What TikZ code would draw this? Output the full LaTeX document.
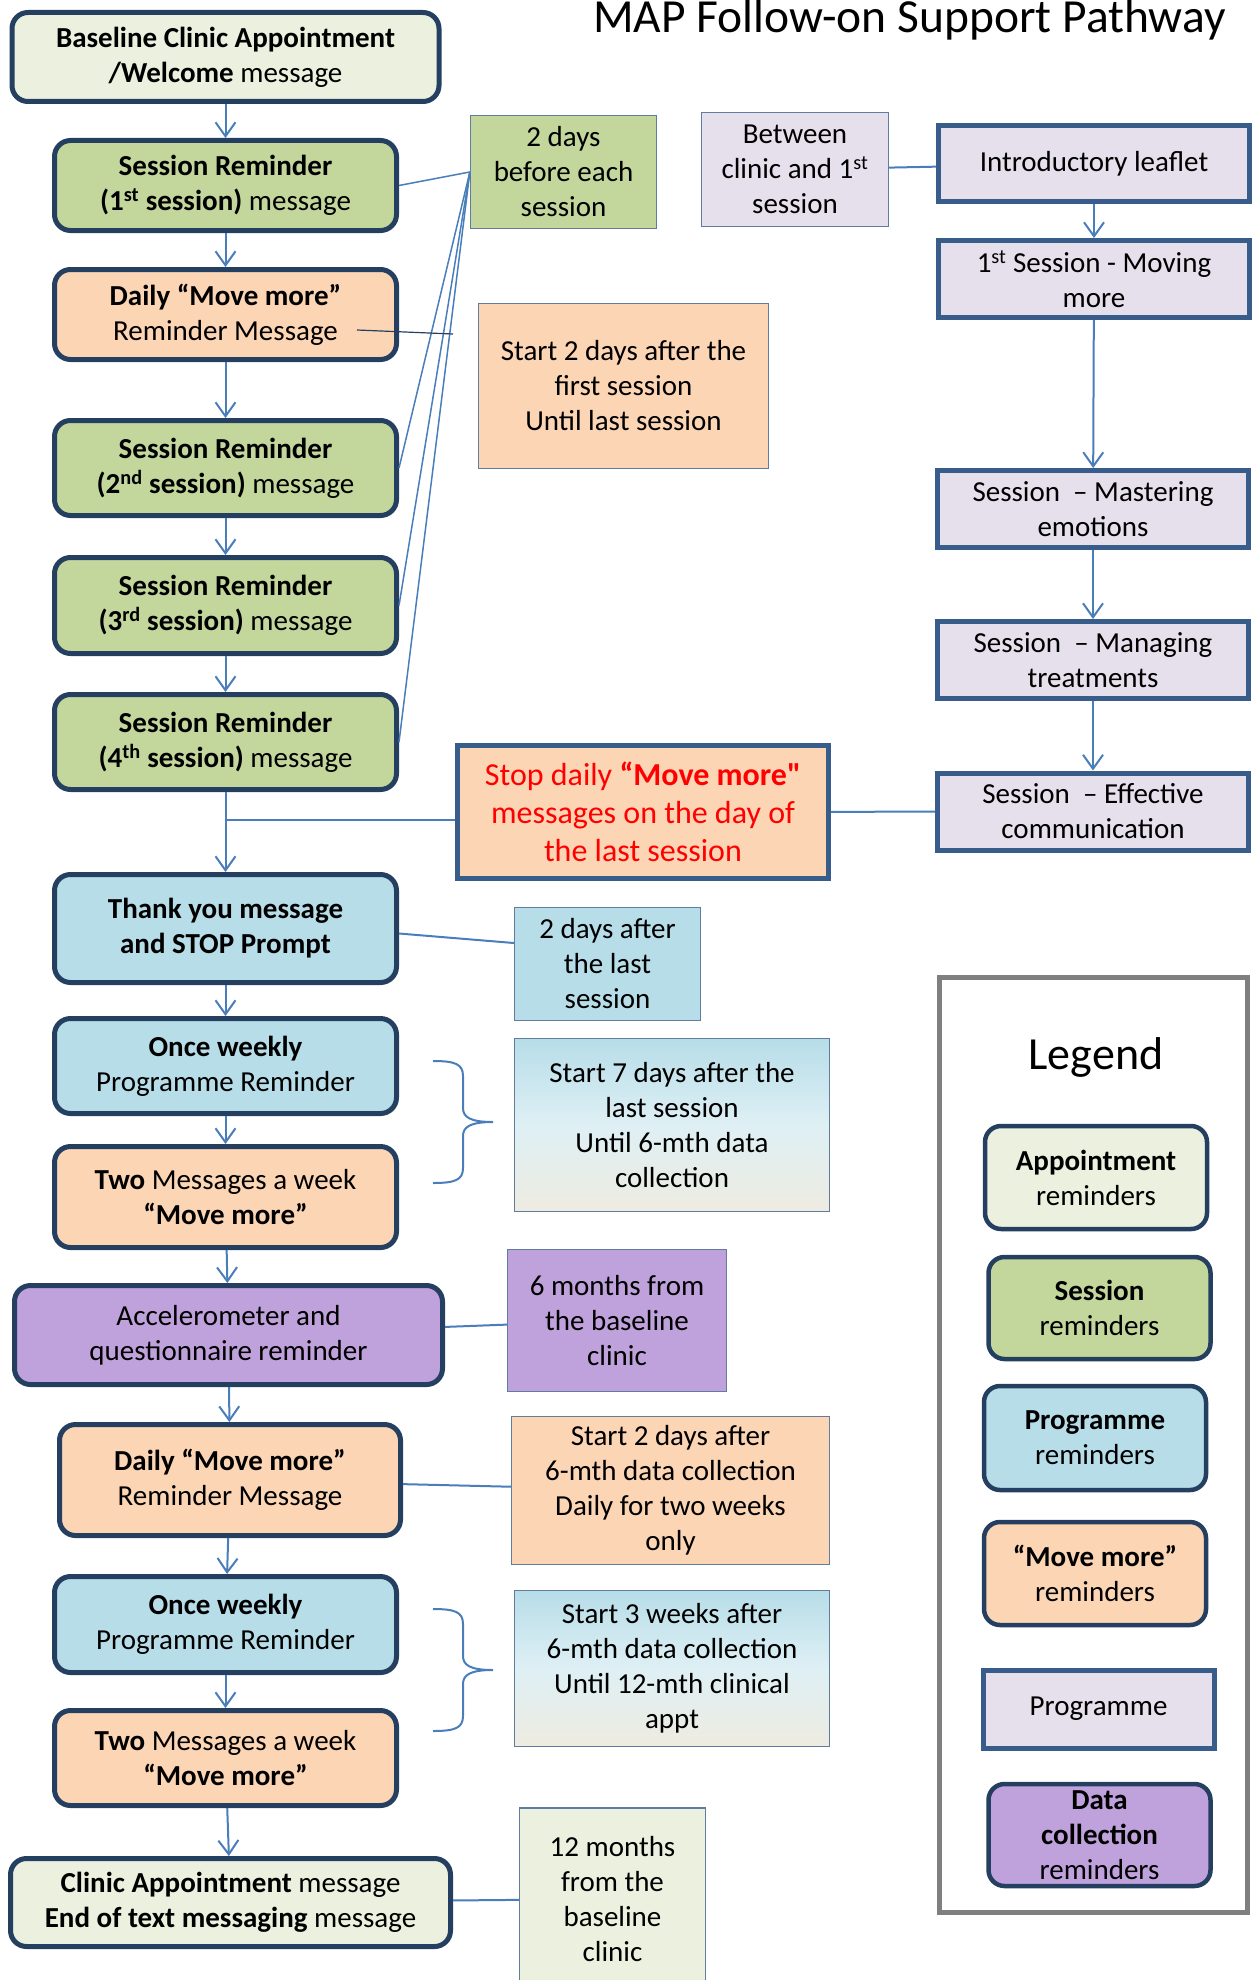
\documentclass[tikz,border=0pt]{standalone}
\usepackage{fontspec}
\setmainfont{Carlito}
\newfontfamily\rawfont{Carlito}
\usetikzlibrary{arrows.meta}
\definecolor{navy}{HTML}{243F60}
\definecolor{progedge}{HTML}{385D8A}
\definecolor{linkblue}{HTML}{4A7EBB}
\definecolor{apptfill}{HTML}{EBF1DE}
\definecolor{sessfill}{HTML}{C3D69B}
\definecolor{movefill}{HTML}{FCD5B5}
\definecolor{progfill}{HTML}{B7DDE8}
\definecolor{leaffill}{HTML}{E5E0EC}
\definecolor{datafill}{HTML}{BFA2DB}
\definecolor{beigefill}{HTML}{EEECE1}
\definecolor{framegray}{HTML}{7F7F7F}
\begin{document}
\begin{tikzpicture}[x=1pt,y=-1pt,
  msg/.style={draw=navy, line width=5pt, rounded corners=16pt, inner sep=0pt, align=center, font=\fontsize{29}{35}\selectfont},
  prog/.style={draw=progedge, line width=5pt, fill=leaffill, inner sep=0pt, align=center, minimum width=311pt, minimum height=77pt, font=\fontsize{29}{35}\selectfont},
  note/.style={draw=progedge!80, line width=1.3pt, inner sep=0pt, align=center, font=\fontsize{29}{35}\selectfont},
  link/.style={draw=linkblue, line width=2pt},
  arr/.style={link, -{Straight Barb[length=14pt,width=20pt]}},
  brc/.style={draw=linkblue, line width=2pt}]
\useasboundingbox (0,0) rectangle (1259,1980);
\node[font=\fontsize{47.5}{56}\selectfont, anchor=base] (title) at (909.5,33) {MAP Follow-on Support Pathway};
\node[msg, fill=apptfill, minimum width=427pt, minimum height=89pt] (base) at (225.5,57) {\textbf{Baseline Clinic Appointment}\\\textbf{/Welcome} message};
\node[msg, fill=sessfill, minimum width=342pt, minimum height=90pt] (ses1) at (225.5,185.5) {\textbf{Session Reminder}\\\textbf{(1\textsuperscript{st} session)} message};
\node[msg, fill=movefill, minimum width=342pt, minimum height=90pt] (daily1) at (225.5,314.5) {\textbf{Daily “Move more”}\\Reminder Message};
\node[msg, fill=sessfill, minimum width=342pt, minimum height=95pt] (ses2) at (225.5,468) {\textbf{Session Reminder}\\\textbf{(2\textsuperscript{nd} session)} message};
\node[msg, fill=sessfill, minimum width=342pt, minimum height=96pt] (ses3) at (225.5,605.5) {\textbf{Session Reminder}\\\textbf{(3\textsuperscript{rd} session)} message};
\node[msg, fill=sessfill, minimum width=342pt, minimum height=95pt] (ses4) at (225.5,742) {\textbf{Session Reminder}\\\textbf{(4\textsuperscript{th} session)} message};
\node[msg, fill=progfill, minimum width=342pt, minimum height=108pt] (thank) at (225.5,928.5) {\textbf{Thank you message}\\\textbf{and STOP Prompt}};
\node[msg, fill=progfill, minimum width=342pt, minimum height=95pt] (weekly1) at (225.5,1066) {\textbf{Once weekly}\\Programme Reminder};
\node[msg, fill=movefill, minimum width=342pt, minimum height=101pt] (two1) at (225.5,1197) {\textbf{Two} Messages a week\\\textbf{“Move more”}};
\node[msg, fill=datafill, minimum width=428pt, minimum height=99pt] (accel) at (228.5,1335) {Accelerometer and\\questionnaire reminder};
\node[msg, fill=movefill, minimum width=341pt, minimum height=111pt] (daily2) at (230,1480) {\textbf{Daily “Move more”}\\Reminder Message};
\node[msg, fill=progfill, minimum width=342pt, minimum height=96pt] (weekly2) at (225.5,1624.5) {\textbf{Once weekly}\\Programme Reminder};
\node[msg, fill=movefill, minimum width=342pt, minimum height=95pt] (two2) at (225.5,1758) {\textbf{Two} Messages a week\\\textbf{“Move more”}};
\node[msg, fill=apptfill, minimum width=440pt, minimum height=88pt] (clinic) at (230.5,1902.5) {\textbf{Clinic Appointment} message\\\textbf{End of text messaging} message};
\node[note, fill=sessfill, minimum width=186pt, minimum height=113pt] (n2before) at (563.5,172) {2 days\\before each\\session};
\node[note, fill=movefill, minimum width=290pt, minimum height=165pt] (nstart1) at (623.5,386) {Start 2 days after the\\first session\\Until last session};
\node[note, fill=leaffill, minimum width=187pt, minimum height=114pt] (nbetween) at (795,169.5) {Between\\clinic and 1\textsuperscript{st}\\session};
\node[draw=progedge, line width=5pt, fill=movefill, text=red, inner sep=0pt, align=center, minimum width=371pt, minimum height=133pt, font=\fontsize{32}{38}\selectfont] (stop) at (643,812) {Stop daily \textbf{“Move more{\rawfont\bfseries"}}\\messages on the day of\\the last session};
\node[note, fill=progfill, minimum width=186pt, minimum height=113pt] (n2after) at (607.5,964) {2 days after\\the last\\session};
\node[note, top color=progfill, bottom color=beigefill, middle color=progfill!45!white, minimum width=315pt, minimum height=173pt] (nstart7) at (672,1125) {Start 7 days after the\\last session\\Until 6-mth data\\collection};
\node[note, fill=datafill, minimum width=219pt, minimum height=142pt] (n6months) at (617,1320.5) {6 months from\\the baseline\\clinic};
\node[note, fill=movefill, minimum width=318pt, minimum height=148pt] (nstartdaily) at (670.5,1490.5) {Start 2 days after\\6-mth data collection\\Daily for two weeks\\only};
\node[note, top color=progfill, bottom color=beigefill, middle color=progfill!45!white, minimum width=315pt, minimum height=156pt] (nstart3w) at (672,1668.5) {Start 3 weeks after\\6-mth data collection\\Until 12-mth clinical\\appt};
\node[note, fill=apptfill, minimum width=186pt, minimum height=182pt] (n12months) at (612.5,1899) {12 months\\from the\\baseline\\clinic};
\node[prog, minimum height=76pt] (intro) at (1094,163.5) {Introductory leaflet};
\node[prog] (prog1) at (1094,279) {1\textsuperscript{st} Session - Moving\\more};
\node[prog] (prog2) at (1093,509) {Session~\ – Mastering\\emotions};
\node[prog] (prog3) at (1093,660) {Session~\ – Managing\\treatments};
\node[prog] (prog4) at (1093,811.5) {Session~\ – Effective\\communication};
\node[draw=framegray, line width=5pt, minimum width=308pt, minimum height=935pt] (legendbox) at (1093.5,1445) {};
\node[font=\fontsize{46}{55}\selectfont, anchor=base] (legendtitle) at (1096,1069) {Legend};
\node[msg, fill=apptfill, line width=4.5pt, minimum width=222pt, minimum height=103pt] (lg1) at (1096,1177.5) {\textbf{Appointment}\\reminders};
\node[msg, fill=sessfill, line width=4.5pt, minimum width=222pt, minimum height=102pt] (lg2) at (1099.5,1308) {\textbf{Session}\\reminders};
\node[msg, fill=progfill, line width=4.5pt, minimum width=222pt, minimum height=104pt] (lg3) at (1095,1438) {\textbf{Programme}\\reminders};
\node[msg, fill=movefill, line width=4.5pt, minimum width=222pt, minimum height=103pt] (lg4) at (1095,1573.5) {\textbf{“Move more”}\\reminders};
\node[prog, minimum width=231pt, minimum height=78pt] (lg5) at (1098.5,1709) {Programme};
\node[msg, fill=datafill, line width=4.5pt, minimum width=222pt, minimum height=102pt] (lg6) at (1099.5,1835) {\textbf{Data}\\\textbf{collection}\\reminders};
\draw[arr] (base) -- (ses1);
\draw[arr] (ses1) -- (daily1);
\draw[arr] (daily1) -- (ses2);
\draw[arr] (ses2) -- (ses3);
\draw[arr] (ses3) -- (ses4);
\draw[arr] (ses4) -- (thank);
\draw[arr] (thank) -- (weekly1);
\draw[arr] (weekly1) -- (two1);
\draw[arr] (two1) -- (accel);
\draw[arr] (accel) -- (daily2);
\draw[arr] (daily2) -- (weekly2);
\draw[arr] (weekly2) -- (two2);
\draw[arr] (two2) -- (clinic);
\draw[arr] (intro) -- (prog1);
\draw[arr] (prog1) -- (prog2);
\draw[arr] (prog2) -- (prog3);
\draw[arr] (prog3) -- (prog4);
\foreach \s in {ses1,ses2,ses3,ses4}
  \draw[link, line width=1.5pt] (\s.east) -- (n2before.west);
\coordinate (tickA) at (357,330);
\coordinate (tickB) at (453,334);
\draw[draw=navy, line width=1.2pt] (tickA) -- (tickB);
\coordinate (stopjoin) at (225.5,820);
\draw[link] (stopjoin) -- (stopjoin -| stop.west);
\draw[link] (stop) -- (prog4);
\draw[link] (nbetween) -- (intro);
\draw[link] ([yshift=-5pt]thank.east) -- ([yshift=21pt]n2after.west);
\draw[link] (accel) -- (n6months);
\draw[link] (daily2) -- (nstartdaily);
\draw[link] (clinic) -- (n12months);
\foreach \t in {1061,1609}
  \draw[brc] (433,\t) .. controls (455,\t) and (463,\t+3) .. (463,\t+15) -- (463,\t+47) .. controls (463,\t+56) and (470,\t+61) .. (493,\t+61) .. controls (470,\t+61) and (463,\t+66) .. (463,\t+75) -- (463,\t+107) .. controls (463,\t+119) and (455,\t+122) .. (433,\t+122);
\end{tikzpicture}
\end{document}
